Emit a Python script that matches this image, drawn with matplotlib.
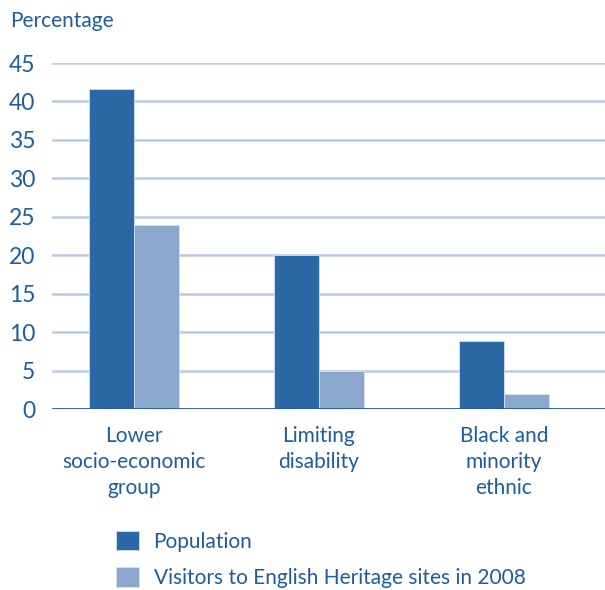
import matplotlib
matplotlib.use("Agg")
import matplotlib.pyplot as plt
import numpy as np

categories = ["Lower\nsocio-economic\ngroup", "Limiting\ndisability", "Black and\nminority\nethnic"]
population = [41.6, 20.0, 8.9]
visitors = [23.9, 5.0, 1.9]
series_names = ["Population", "Visitors to English Heritage sites in 2008"]
yticks = [0, 5, 10, 15, 20, 25, 30, 35, 40, 45]

dark = "#2B68A5"
light = "#8CA7CE"
txt = "#1E5C9C"
grid = "#BACBE2"

plt.rcParams['font.family'] = ['Lato', 'DejaVu Sans']

fig = plt.figure(figsize=(6.05, 5.9), dpi=100)
ax = fig.add_axes([52/605, 1-409/590, 1-52/605, (409-63)/590])

x = np.arange(len(categories))
w = 0.243
b1 = ax.bar(x - w/2, population, w, color=dark, edgecolor="#D6E0EE", linewidth=0.6, zorder=3, label=series_names[0])
b2 = ax.bar(x + w/2, visitors, w, color=light, edgecolor="#D6E0EE", linewidth=0.6, zorder=3, label=series_names[1])

ax.set_xlim(-0.443, 2.546)
ax.set_ylim(0, 45)
for y in yticks[1:]:
    ax.axhline(y, color=grid, linewidth=1.8, zorder=1)
ax.axhline(0, color="#1F5A96", linewidth=2, zorder=4)

for s in ax.spines.values():
    s.set_visible(False)
ax.set_yticks(yticks)
ax.set_yticklabels([str(v) for v in yticks], fontsize=16.5, color=txt)
ax.tick_params(axis='y', length=0, pad=12)
ax.set_xticks(x)
ax.set_xticklabels(categories, fontsize=15, color=txt, linespacing=1.4)
ax.tick_params(axis='x', length=0, pad=12)

fig.text(10/605, 1-21/590, "Percentage", fontsize=15, color=txt, va="center", ha="left")

fig.legend(handles=[b1, b2], labels=series_names, loc="upper left",
           bbox_to_anchor=(116/605, 1-531/590), frameon=False, fontsize=15,
           handlelength=1.1, handleheight=1.05, handletextpad=0.7, labelspacing=0.75,
           labelcolor=txt, borderaxespad=0, borderpad=0)

fig.savefig("out.png", dpi=100, facecolor="white")
